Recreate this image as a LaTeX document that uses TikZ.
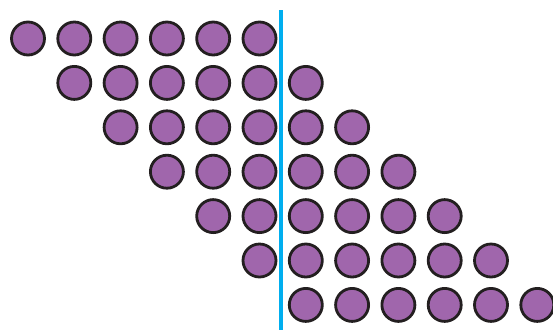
\documentclass[tikz,border=0pt]{standalone}
\definecolor{dotpurple}{RGB}{160,102,172}
\definecolor{linecyan}{RGB}{0,174,239}
\definecolor{rimblack}{RGB}{35,31,32}
\begin{document}
\begin{tikzpicture}[x=1pt,y=-1pt,
  dot/.style={circle, draw=rimblack, fill=dotpurple, line width=2.8pt,
    minimum size=33pt, inner sep=0pt}]
  \useasboundingbox (0,0) rectangle (553,330);
  % rows of six dots, each row one place further right
  \foreach \r in {0,...,6} {
    \foreach \k in {0,...,5} {
      \node[dot] (dot-\r-\k) at ({28+46.3*(\r+\k)}, {38.5+44.4*\r}) {};
    }
  }
  % dividing line
  \coordinate (line top) at (281,10);
  \coordinate (line bottom) at (281,330);
  \draw[linecyan, line width=3.8pt] (line top) -- (line bottom);
\end{tikzpicture}
\end{document}
